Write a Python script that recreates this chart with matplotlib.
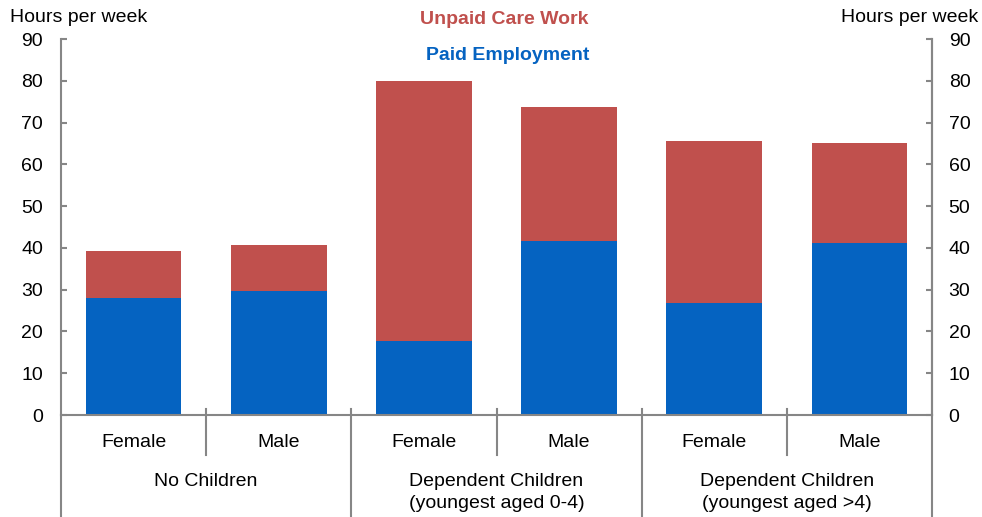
import matplotlib.pyplot as plt

plt.rcParams['font.family'] = ['Liberation Sans', 'DejaVu Sans']

# hours per week, by household type and sex
sexes = ['Female', 'Male', 'Female', 'Male', 'Female', 'Male']
groups = ['No Children',
          'Dependent Children\n(youngest aged 0-4)',
          'Dependent Children\n(youngest aged >4)']
paid = [28.0, 29.7, 17.7, 41.6, 26.8, 41.1]
unpaid = [11.2, 11.0, 62.2, 32.1, 38.7, 23.9]

blue = '#0563C1'
red = '#C0504D'
grey = '#868686'
fs = 14

fig = plt.figure(figsize=(9.82, 5.17), dpi=100)
ax = fig.add_axes([61 / 982, 102 / 517, 871 / 982, 376 / 517])

x = [i + 0.5 for i in range(len(sexes))]
ax.bar(x, paid, width=0.66, color=blue, zorder=2)
ax.bar(x, unpaid, width=0.66, bottom=paid, color=red, zorder=2)

ax.set_xlim(0, len(sexes))
ax.set_ylim(0, 90)
ax.set_yticks(range(0, 91, 10))
ax.set_xticks([])
ax.spines['top'].set_visible(False)
for s in ['left', 'right', 'bottom']:
    ax.spines[s].set_color(grey)
    ax.spines[s].set_linewidth(1.5)
ax.tick_params(axis='y', direction='in', length=4, width=1.5, color=grey,
               labelsize=fs, pad=13)

ax2 = ax.twinx()
ax2.set_ylim(0, 90)
ax2.set_yticks(range(0, 91, 10))
for s in ['top', 'left', 'bottom']:
    ax2.spines[s].set_visible(False)
ax2.spines['right'].set_color(grey)
ax2.spines['right'].set_linewidth(1.5)
ax2.tick_params(axis='y', direction='in', length=4, width=1.5, color=grey,
                labelsize=fs, pad=12)

# category axis: separators and two-level labels
trans = ax.get_xaxis_transform()
bottom = -102 / 376
for i in range(len(sexes) + 1):
    if i % 2 == 1:
        ax.plot([i, i], [0.016, -0.106], color=grey, lw=1.5,
                transform=trans, clip_on=False)
    else:
        ax.plot([i, i], [0.016 if 0 < i < 6 else 0, bottom], color=grey,
                lw=1.5, transform=trans, clip_on=False)

for xi, s in zip(x, sexes):
    ax.text(xi, -0.072, s, transform=trans, ha='center', va='center',
            fontsize=fs)
for j, g in enumerate(groups):
    ax.text(2 * j + 1, -0.155, g, transform=trans, ha='center', va='top',
            fontsize=fs, linespacing=1.35)

fig.text(10 / 982, 1 - 17 / 517, 'Hours per week', ha='left', va='center',
         fontsize=fs)
fig.text(978 / 982, 1 - 17 / 517, 'Hours per week', ha='right', va='center',
         fontsize=fs)
fig.text(504 / 982, 1 - 20 / 517, 'Unpaid Care Work', ha='center',
         va='center', fontsize=fs, fontweight='bold', color=red)
fig.text(508 / 982, 1 - 56 / 517, 'Paid Employment', ha='center',
         va='center', fontsize=fs, fontweight='bold', color=blue)

fig.savefig('out.png', dpi=100)
